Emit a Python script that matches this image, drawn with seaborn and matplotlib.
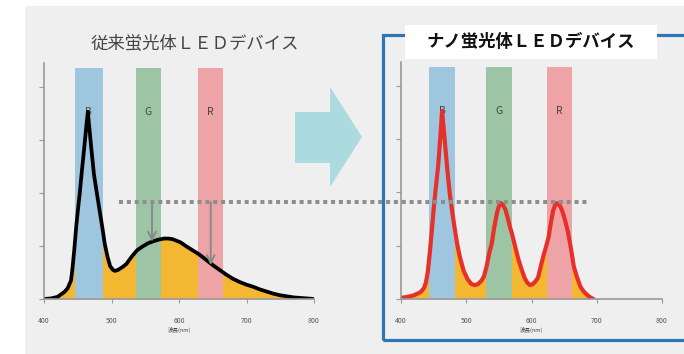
import matplotlib
matplotlib.use("Agg")
import matplotlib.pyplot as plt
import matplotlib.patches as mpatches
from matplotlib.lines import Line2D
import seaborn as sns
import pandas as pd

# ---------------- data ----------------
title_left = "従来蛍光体ＬＥＤデバイス"
title_right = "ナノ蛍光体ＬＥＤデバイス"
xlabel = "波長(nm)"
x_ticks = [400, 500, 600, 700, 800]
band_labels = ["B", "G", "R"]
bands_conv = [(446, 487), (536, 573), (628, 665)]
bands_nano = [(443, 483), (530, 570), (624, 662)]
band_top = 4.36
dotted_level = 1.83

wl_conv = [400, 410, 420, 430, 435, 440, 442, 445, 448, 450, 453, 456, 460, 463, 465,
           467, 470, 474, 478, 483, 487, 490, 494, 498, 502, 505, 510, 516, 522, 530,
           538, 546, 554, 562, 570, 578, 584, 590, 596, 602, 610, 620, 630, 640, 650,
           660, 670, 680, 690, 700, 710, 720, 730, 740, 750, 760, 770, 780, 790, 800]
int_conv = [0.0, 0.01, 0.04, 0.13, 0.2, 0.35, 0.55, 0.95, 1.4, 1.65, 2.0, 2.4, 2.9, 3.3, 3.53,
            3.25, 2.85, 2.35, 2.02, 1.62, 1.3, 1.04, 0.8, 0.62, 0.55, 0.53, 0.55, 0.6, 0.66, 0.8,
            0.92, 0.99, 1.05, 1.09, 1.12, 1.14, 1.14, 1.13, 1.1, 1.07, 1.0, 0.92, 0.84, 0.74, 0.64,
            0.55, 0.46, 0.38, 0.32, 0.27, 0.23, 0.18, 0.14, 0.1, 0.07, 0.05, 0.03, 0.02, 0.01, 0.0]

wl_nano = [400, 410, 420, 430, 435, 438, 441, 444, 447, 450, 453, 457, 460, 463, 466, 469,
           472, 475, 478, 482, 486, 490, 496, 502, 508, 513, 518, 523, 527, 531, 535, 539,
           543, 547, 550, 553, 556, 560, 564, 567, 570, 575, 580, 585, 590, 594, 598, 602,
           606, 610, 614, 618, 622, 626, 630, 633, 636, 639, 642, 645, 648, 652, 656, 660,
           665, 670, 675, 680, 685, 690, 695]
int_nano = [0.02, 0.04, 0.07, 0.13, 0.2, 0.3, 0.5, 0.85, 1.25, 1.68, 2.05, 2.5, 3.0, 3.53, 3.12, 2.7,
            2.3, 1.95, 1.68, 1.35, 1.04, 0.8, 0.53, 0.37, 0.28, 0.26, 0.28, 0.34, 0.42, 0.6, 0.85, 1.04,
            1.35, 1.61, 1.74, 1.8, 1.77, 1.68, 1.5, 1.35, 1.23, 0.98, 0.74, 0.55, 0.38, 0.3, 0.26, 0.28,
            0.33, 0.4, 0.6, 0.8, 0.97, 1.15, 1.45, 1.65, 1.76, 1.8, 1.77, 1.72, 1.62, 1.45, 1.25, 0.98,
            0.6, 0.4, 0.23, 0.14, 0.08, 0.03, 0.0]

arrow_x = [560, 647]
arrow_tip = [1.08, 0.64]

# ---------------- style ----------------
sns.set_theme(style="white")
plt.rcParams["font.family"] = ["Noto Sans CJK JP", "DejaVu Sans"]

W, H = 684, 354
fig = plt.figure(figsize=(W / 100, H / 100), dpi=100, facecolor="white")


def fx(px):
    return px / W


def fy(py):
    return 1 - py / H


band_colors = ["#9fc6df", "#9dc4a4", "#eea3a6"]
orange = "#f4b731"
axis_gray = "#999999"

# background panel
fig.add_artist(mpatches.Rectangle((fx(25), 0), fx(W + 10) - fx(25), fy(6), transform=fig.transFigure,
                                  facecolor="#efefef", edgecolor="none", zorder=-5))
# blue frame on the right
fig.add_artist(mpatches.Rectangle((fx(383), fy(340)), fx(720) - fx(383), fy(35) - fy(340),
                                  transform=fig.transFigure, facecolor="none", edgecolor="#2e75b6",
                                  linewidth=2.3, zorder=1))
# title box
fig.add_artist(mpatches.Rectangle((fx(405), fy(59)), fx(657) - fx(405), fy(25) - fy(59),
                                  transform=fig.transFigure, facecolor="white", edgecolor="none",
                                  zorder=2))
fig.text(fx(531), fy(42), title_right, ha="center", va="center", fontsize=12.5,
         fontweight="bold", color="#111111", zorder=3)
fig.text(fx(195), fy(43), title_left, ha="center", va="center", fontsize=12.5,
         color="#444444", zorder=3)

# big arrow
arrow_pts = [(295, 112), (330, 112), (330, 87), (362, 137), (330, 187), (330, 163), (295, 163)]
fig.add_artist(mpatches.Polygon([(fx(a), fy(b)) for a, b in arrow_pts], closed=True,
                                transform=fig.transFigure, facecolor="#abdadf",
                                edgecolor="none", zorder=1))


def draw_panel(ax, wl, inten, bands, color, lw):
    df = pd.DataFrame({"wl": wl, "I": inten})
    ax.set_facecolor("none")
    ax.fill_between(df["wl"], 0, df["I"], color=orange, linewidth=0, zorder=1)
    for (a, b), c, lab in zip(bands, band_colors, band_labels):
        ax.fill_between([a, b], 0, band_top, color=c, linewidth=0, zorder=2)
        ax.text((a + b) / 2, 3.53, lab, ha="center", va="center", fontsize=7.5,
                color="#444444", zorder=3)
    sns.lineplot(data=df, x="wl", y="I", ax=ax, color=color, linewidth=lw,
                 zorder=4, sort=False, estimator=None)
    ax.lines[-1].set_solid_joinstyle("round")
    ax.lines[-1].set_solid_capstyle("round")
    ax.set_xlim(400, 800)
    ax.set_ylim(0, 4.45)
    ax.set_xticks(x_ticks)
    ax.set_xticklabels([str(t) for t in x_ticks], fontsize=5, color="#555555")
    ax.set_yticks([0, 1, 2, 3, 4])
    ax.set_yticklabels([])
    ax.tick_params(axis="x", direction="out", length=3, width=0.8, color=axis_gray, pad=10,
                   bottom=True)
    ax.tick_params(axis="y", direction="out", length=3.5, width=0.8, color=axis_gray, pad=1,
                   left=True)
    ax.set_xlabel(xlabel, fontsize=4, color="#444444", labelpad=1)
    ax.set_ylabel("")
    for s in ["top", "right"]:
        ax.spines[s].set_visible(False)
    for s in ["left", "bottom"]:
        ax.spines[s].set_color(axis_gray)
        ax.spines[s].set_linewidth(1.2)
        ax.spines[s].set_zorder(5)


ax1 = fig.add_axes([fx(44), fy(299), fx(314) - fx(44), fy(63) - fy(299)])
draw_panel(ax1, wl_conv, int_conv, bands_conv, "#000000", 2.7)
for xa, ya in zip(arrow_x, arrow_tip):
    ax1.annotate("", xy=(xa, ya), xytext=(xa, dotted_level),
                 arrowprops=dict(arrowstyle="->", color="#8a8a8a", lw=1.4,
                                 mutation_scale=14, shrinkA=0, shrinkB=0), zorder=6)

ax2 = fig.add_axes([fx(401), fy(299), fx(662) - fx(401), fy(62) - fy(299)])
draw_panel(ax2, wl_nano, int_nano, bands_nano, "#e8302a", 3.0)

# dotted reference line across both panels
fig.add_artist(Line2D([fx(119), fx(589)], [fy(202), fy(202)], transform=fig.transFigure,
                      color="#8e8e8e", linewidth=2.9, linestyle=(0, (1, 0.95)),
                      dash_capstyle="butt", zorder=10))

fig.savefig("out.png", dpi=100, facecolor="white")
